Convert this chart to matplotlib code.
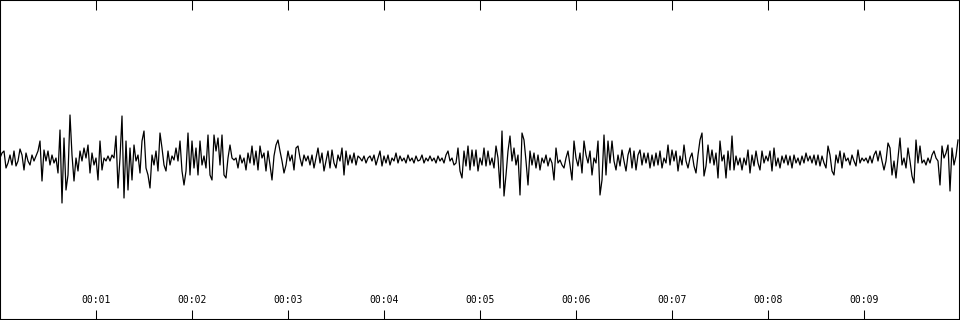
import numpy as np
import matplotlib
matplotlib.use("Agg")
import matplotlib.pyplot as plt
from matplotlib.transforms import blended_transform_factory

# waveform amplitude in 8 blocks of 1.25 s each
seg_1 = [0, 5, 7, -10, -5, 3, -7, 7, -8, -3, 9, 3, -12, 5, -3, -7, 3, -3, 2, 7,
         17, -23, 8, -3, 7, -7, 3, -5, 0, -15, 28, -45, 20, -32, -17, 43, 3, -23, 0, -13,
         7, -3, 10, 0, 13, -15, 5, -7, 0, -22, 17, -12, 0, -3, 2, -3, 3, 0, 22, -30]
seg_2 = [0, 42, -40, 17, -32, 10, -22, 13, -3, 3, -15, 17, 27, -10, -17, -30, 3, -7, 7, -13,
         25, 10, -7, -13, 7, -7, 2, -2, 10, -3, 17, -13, -27, -13, 25, -17, 17, -10, 10, -17,
         17, -7, 2, -10, 23, -17, -22, 23, 7, 20, -7, 23, -17, -20, 0, 13, 0, -2, 0, -10]
seg_3 = [3, -5, 0, -12, 5, -5, 12, -7, 7, -12, 12, 0, 5, -13, 7, -7, -22, 2, 13, 18,
         7, -3, -15, -7, 7, -3, 3, -12, 10, 12, 0, -8, 3, -3, 2, -7, 3, -10, 0, 10,
         -5, 5, -13, -3, 7, -10, 8, -5, -10, 3, -3, 10, -17, 7, -7, 3, -5, 5, -7, 2]
seg_4 = [0, -3, 2, -5, 0, 2, -3, 3, -7, 0, 7, -8, 2, -5, 3, -7, 0, -3, 5, -5,
         2, -3, 0, -5, 3, -3, 0, -5, 2, -3, -2, 3, -5, 0, -3, 2, -3, 0, -5, 2,
         -3, 0, -5, 3, 7, -3, 0, -7, -5, 10, -13, -20, 7, -8, 12, -12, 8, -8, 8, -13]
seg_5 = [0, -7, 10, -8, 7, -7, 0, -10, 12, 0, -30, 27, -38, -17, 7, 22, -3, 10, -7, 3,
         -37, 25, 18, -3, -27, 7, -7, 5, -10, 3, -12, 0, -5, 3, -8, 0, -5, -22, 10, -5,
         -2, -7, -10, 0, 7, -7, -22, 17, 0, -8, 5, -15, 17, 3, -5, 7, -17, 0, -5, 17]
seg_6 = [-37, -22, 23, -17, 17, -5, 17, -3, -12, 3, -8, 8, -3, -13, 3, 10, -10, 7, -12, 3,
         8, -7, 5, -5, 5, -10, 3, -8, 5, -7, 7, -10, 0, -5, 13, -7, 8, -3, 7, -13,
         2, -7, 13, -3, -10, 0, 5, -8, -15, 3, 18, 25, -18, -8, 13, -5, 8, -7, 5, -20]
seg_7 = [17, -3, 3, -20, 7, -12, 22, -12, 2, -7, 0, -12, 0, -7, 8, -15, 3, -8, 7, -5,
         -12, 7, -5, 2, -3, 7, -13, 10, -8, 0, -10, 2, -5, 3, -7, 2, -10, 3, -5, 0,
         -7, 2, -5, 5, -3, 2, -5, 3, -7, 3, -8, 2, -5, -10, 12, 3, -13, -17, 3, -5]
seg_8 = [7, -10, 5, -3, 0, -7, 3, -3, -8, 8, -5, 0, -3, 0, -5, 2, -5, 3, 7, -3,
         7, -3, -12, -3, 15, 10, -17, -3, -20, 0, 20, -7, 0, -10, 10, -3, -18, -25, 18, -5,
         12, -5, -2, -7, 0, -5, 3, 7, 0, -3, -27, 12, 0, 5, 13, -33, 10, -7, 2, 18]

tick_seconds = [1, 2, 3, 4, 5, 6, 7, 8, 9]
tick_labels = ["00:01", "00:02", "00:03", "00:04", "00:05",
               "00:06", "00:07", "00:08", "00:09"]

amp = np.array(seg_1 + seg_2 + seg_3 + seg_4 + seg_5 + seg_6 + seg_7 + seg_8, dtype=float)
dt = 10.0 / len(amp)
t = np.arange(len(amp)) * dt

fig = plt.figure(figsize=(9.6, 3.2), dpi=100)
ax = fig.add_axes([0, 0, 1, 1])
ax.plot(t, amp, color="black", linewidth=0.9)

ax.set_xlim(0, 10)
ax.set_ylim(-162, 158)
for s in ax.spines.values():
    s.set_color("black")
    s.set_linewidth(1.5)

ax.set_xticks(tick_seconds)
ax.set_xticklabels([])
ax.set_yticks([])
ax.tick_params(axis="x", direction="in", length=7.5, width=0.75,
               top=True, bottom=True, color="black")

trans = blended_transform_factory(ax.transData, ax.transAxes)
for sec, lab in zip(tick_seconds, tick_labels):
    ax.text(sec, 0.063, lab, transform=trans, ha="center", va="center",
            fontsize=7, family="DejaVu Sans Mono", color="black")

fig.savefig("out.png", dpi=100)
